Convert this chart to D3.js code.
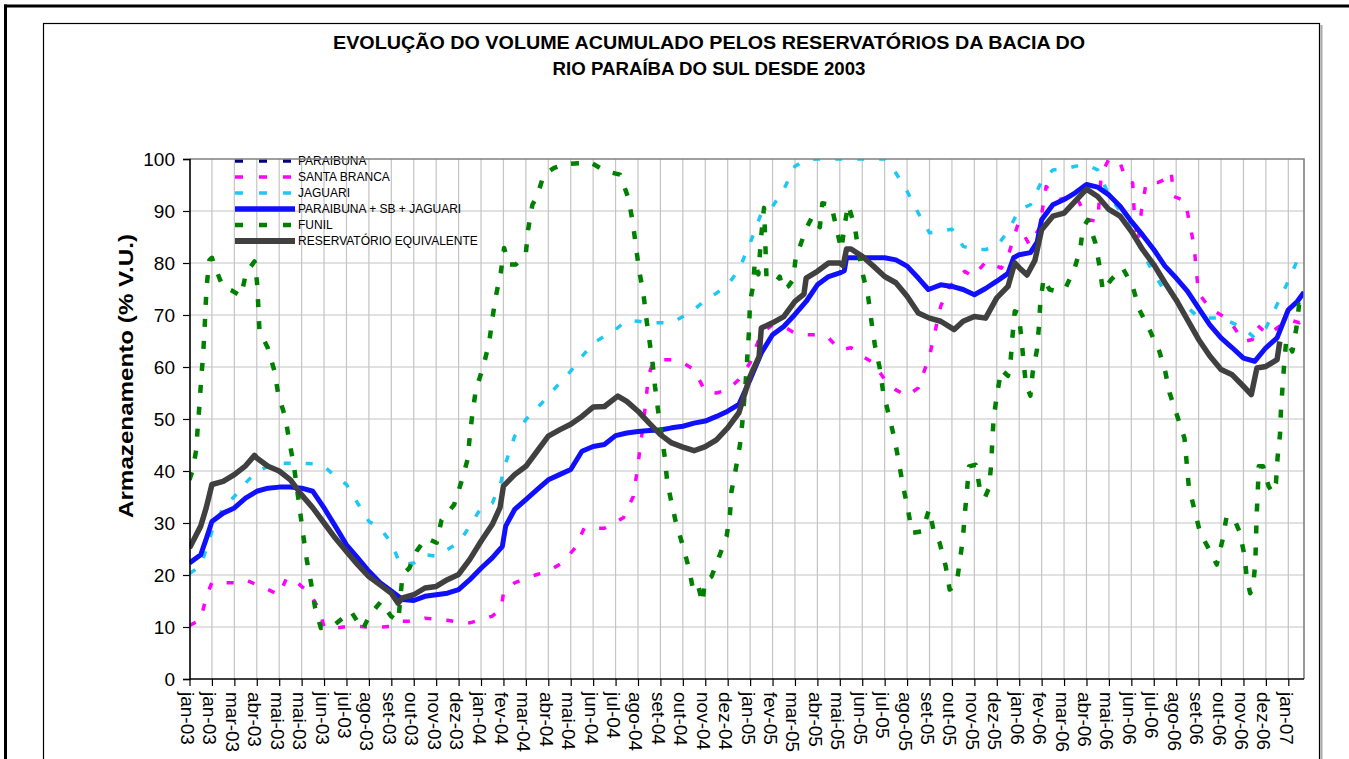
<!DOCTYPE html>
<html><head><meta charset="utf-8">
<script src="https://cdn.jsdelivr.net/npm/d3@7"></script>
<style>body{margin:0;background:#fff;overflow:hidden} svg{display:block}</style>
</head><body>
<svg id="c" width="1349" height="759"></svg>
<script>
// x positions are 30-day periods counted from 01/01/2003 (the axis ticks)
const xLabels = ["jan-03","jan-03","mar-03","abr-03","mai-03","mai-03","jun-03","jul-03","ago-03","set-03","out-03","nov-03","dez-03",
  "jan-04","fev-04","mar-04","abr-04","mai-04","jun-04","jul-04","ago-04","set-04","out-04","nov-04","dez-04",
  "jan-05","fev-05","mar-05","abr-05","mai-05","jun-05","jul-05","ago-05","set-05","out-05","nov-05","dez-05",
  "jan-06","fev-06","mar-06","abr-06","mai-06","jun-06","jul-06","ago-06","set-06","out-06","nov-06","dez-06","jan-07"];
const yTicks = [0,10,20,30,40,50,60,70,80,90,100];
const seriesNames = ["PARAIBUNA","SANTA BRANCA","JAGUARI","PARAIBUNA + SB + JAGUARI","FUNIL","RESERVATÓRIO EQUIVALENTE"];

const paraibunaP = [];
const paraibunaV = [];

const santaBrancaP = [0,0.5,0.7,0.9,1,1.5,2,2.5,3,3.5,4,4.33,4.7,5,5.3,5.8,6,6.5,7,7.5,8,8.5,9,9.5,10,10.5,11,11.5,12,12.5,13,13.5,13.9,14,14.5,15,15.5,16,16.6,17.2,17.6,18.5,19.35,19.79,19.96,20.1,20.24,20.36,20.46,20.66,20.9,21.5,22,22.5,23,23.5,24,24.5,25,25.5,26,26.5,27,27.5,28,28.5,29,29.5,30,30.5,31,31.5,32,32.5,33,33.5,33.9,34.57,34.94,35.53,36.2,36.5,36.94,37.46,37.9,38.2,38.8,39.5,40.1,40.5,40.66,41,41.5,41.8,42.06,42.15,42.3,42.45,42.66,43.2,43.47,43.77,43.9,44.4,44.6,44.8,44.9,45,45.5,46,46.4,47,47.4,47.6,48.1,48.5,49,49.5,49.7];
const santaBrancaV = [10.3,11.4,15,17.5,18.5,18.5,18.5,19.1,18.1,17.2,16.2,19.4,19,17.8,16.9,13.3,10,9.8,10.1,10.1,10,10,10.1,11.1,11.1,11.7,11.5,11.3,10.9,10.8,11.4,12.1,13.5,16.5,18.5,19.4,20.1,20.7,22.3,25.2,29,29,31,35.1,39.9,44.7,49.2,53.7,58.2,60.8,61.4,61.4,60.8,59.5,55.3,55,55.6,57.6,60.8,66.5,68.1,67.8,66.5,66.2,66.2,65.6,63.3,63.7,62.1,60.8,57.6,55.6,54.4,56,62.1,71.7,75.5,78.4,77.4,80.3,79,81.3,87.4,83.5,86.7,94.7,92.2,93,88.3,88,97,100,99.2,95.7,95.4,88,84,90,95.4,95.5,96,97.6,92.8,91.9,87.7,83.2,78.4,74.2,71.3,70,68.8,64.9,65.3,68.1,66.2,67.5,69.1,68.5,69];

const jaguariP = [0,0.5,1,1.5,2,2.5,3,3.5,4,4.5,5,5.5,6,6.5,7,7.5,8,8.5,9,9.4,10,10.5,11,11.5,12,12.5,13,13.5,13.9,14,14.5,15,15.5,16,16.5,17,17.5,18,18.5,19,19.5,20,20.5,21,21.5,22,22.5,23,23.5,24,24.5,25,25.5,26,26.5,27,27.5,28,29,30,31,31.5,32,32.5,33,33.5,34,34.5,35,35.5,36,36.5,37,37.5,38,38.5,39,39.5,40,40.5,41,41.5,42,42.5,43,43.5,44,44.5,45,45.5,46,46.5,47,47.5,48,48.5,49,49.5,49.7];
const jaguariV = [20.3,21.7,28.4,32.9,35.1,37.7,39.9,40.9,41.5,41.5,41.5,41.4,40.9,39,37.4,33.8,30.3,29,26.2,22,22.3,23.9,23.6,24.9,26.2,29.4,32.9,33.8,38,40.3,46.7,49.9,52.1,54.4,56.9,59.2,62,64.6,65.9,67.2,69,68.8,68.5,68.5,68.5,69.7,71,72.9,74.2,75.8,78.7,83.8,89.6,90.9,94.1,98.6,99.9,100,100,100,100,97.3,93.8,89.6,85.8,86.1,86.5,83.2,82.6,82.6,83.2,86.1,90.3,91.2,95.7,97.9,98.1,98.6,98.9,97.9,93,90,86.5,82,78,74.5,73,71.5,69.5,69.4,69.4,68.5,67.5,65.6,67.5,72,76.5,81.5,82.5];

const somaP = [0,0.5,0.75,1,1.5,2,2.5,3,3.5,4,4.5,5,5.5,6,6.5,7,7.5,8,8.5,9,9.5,10,10.5,11,11.5,12,12.5,13,13.5,13.95,14.1,14.5,15,15.5,16,16.5,17,17.5,18,18.5,19,19.5,20,20.5,21,21.5,22,22.5,23,23.5,24,24.5,25,25.5,26,26.5,27,27.5,28,28.5,29,29.2,29.3,30,30.5,31,31.5,32,32.5,32.95,33.5,34,34.5,35,35.5,36,36.5,36.75,37,37.5,37.8,38,38.5,39,39.5,40,40.5,41,41.5,42,42.5,43,43.5,44,44.5,45,45.5,46,46.5,47,47.5,48,48.5,49,49.4,49.7];
const somaV = [22.3,23.9,27,30.3,31.9,32.9,34.8,36.1,36.7,36.9,36.9,36.7,36.1,32.9,29.4,25.8,23.3,20.7,18.5,16.9,15.3,15.1,15.9,16.2,16.5,17.2,19.1,21.3,23.3,25.5,29.4,32.6,34.5,36.4,38.3,39.3,40.3,43.8,44.7,45.1,46.8,47.3,47.6,47.8,47.9,48.3,48.6,49.2,49.6,50.5,51.5,52.8,57.6,62.7,66.2,67.8,70.1,72.6,75.8,77.4,78.1,78.5,81,81,81,81,80.6,79.4,77.1,74.9,75.8,75.5,74.9,73.9,75.1,76.5,78,81,81.6,82,84,88.3,91.2,92.2,93.5,95.1,94.6,93.1,90.9,88,85.4,82.6,79.4,77.1,74.6,71.3,68.1,65.6,63.7,61.7,61.1,63.7,65.6,71,72.6,74.4];

const funilP = [0,0.15,0.3,0.37,0.45,0.52,0.6,0.67,0.71,0.77,0.89,1,1.16,1.48,1.93,2.3,2.52,2.9,3.01,3.07,3.12,3.49,3.79,3.96,4.28,4.45,4.65,4.93,5.08,5.23,5.42,5.6,5.86,6.46,7.2,7.72,8.05,8.54,8.98,9.31,9.5,9.8,10.13,10.54,11.02,11.24,11.8,12.13,12.4,12.5,12.62,12.77,13.1,13.36,13.5,13.66,13.88,14.03,14.25,14.55,15,15.1,15.29,15.5,15.8,16.26,16.78,17.35,17.93,18.6,19.2,19.57,19.76,19.91,20.04,20.24,20.36,20.51,20.66,20.76,20.9,21.2,21.3,21.5,21.68,21.99,22.27,22.47,22.69,22.88,22.98,23.28,23.65,23.95,24.1,24.17,24.37,24.55,24.66,24.8,24.96,24.99,25.14,25.21,25.37,25.48,25.58,25.62,25.66,25.73,26.18,26.32,26.47,26.7,26.92,27.04,27.14,27.48,27.78,28.11,28.22,28.62,28.85,29.07,29.22,29.37,29.67,29.82,30.01,30.26,30.41,30.56,30.78,30.93,31.2,31.45,31.64,31.82,32.04,32.22,32.68,32.98,33.19,33.45,33.72,33.9,34.2,34.35,34.49,34.57,34.67,34.76,35.06,35.24,35.46,35.65,35.75,35.8,35.86,36.01,36.2,36.5,36.62,36.7,36.8,36.97,37.09,37.19,37.3,37.5,37.6,37.79,37.88,37.94,38.09,38.35,38.65,39.07,39.47,39.72,39.84,40.06,40.4,40.58,40.73,41.1,41.62,42.06,42.36,42.84,43.25,43.52,43.7,44.03,44.37,44.47,44.56,44.81,45.07,45.51,45.81,46.07,46.25,46.6,46.82,47.04,47.15,47.3,47.44,47.53,47.56,47.59,47.64,47.68,47.88,48.12,48.3,48.45,48.52,48.63,48.67,48.74,48.82,48.91,49.18,49.36,49.48,49.63];
const funilV = [38.3,40.3,44.1,48.6,53,57.6,62,66.9,71,75.8,80.6,81,79,75.5,74.6,73.6,78.1,80.3,76.3,71.5,66.9,63.7,59.2,54.7,50.2,45.7,41.2,32.2,27.4,22.9,18.5,13.7,9.8,10.4,13,9.5,12.4,14.9,12.1,11.1,20.1,21.3,24.6,27.1,26.2,30.6,33.5,38,42.2,46.7,51.2,55.6,60.1,64.6,69.1,73.6,78.1,82.9,79.7,79.7,81.9,86.4,91.2,92.8,97,98.3,99,99.2,99.2,97.6,97,92.5,88,83.2,78.8,74.2,69.7,65.1,60.4,56.2,51.5,42.5,38,33.8,30.3,25.8,21.3,16.9,17.8,14.6,18.8,19.7,23.9,27.4,31.6,36.1,40.6,45.1,49.6,57,67.5,72.3,75.8,80.3,77.8,84.5,89,90.6,86.1,77.1,76.5,77.4,74.9,75.5,76.8,81.3,82.2,86.4,89,86.9,91.5,91.2,86.7,82.6,87.4,91.2,87,82.6,78.1,73.6,68.8,64.3,59.8,55.3,50.5,46,41.5,37.1,32.6,28.1,28.4,32.6,28.4,26.2,21.7,17.2,18.1,22.6,27.1,31.6,36.1,40.9,41.2,36.7,34.8,36.7,41.2,45.7,50.2,54.7,59.5,58.3,61.4,65.9,70.7,70.4,65.9,61.2,56.7,54.5,58.9,63.3,67.8,72.3,77.1,74.9,74.6,75.2,79,82.6,86.7,88.3,83.8,79.4,74.6,76.8,79,75.5,71,66.9,63,59,55.1,50.8,46.3,41.5,37.1,32.6,28.1,24.6,22,26.8,31.3,30.6,28.4,23.9,19.4,16.5,18.1,22.6,27.1,31.6,36.1,40.9,40.9,37.1,35.8,37.7,42.5,47,51.5,56,60.8,65.3,63,67.5,72,71.7];

const equivP = [0,0.5,0.75,1,1.5,2,2.5,2.9,3,3.5,4,4.5,5,5.5,6,6.5,7,7.5,8,8.5,9,9.3,9.5,10,10.5,11,11.5,12,12.5,13,13.5,13.85,14,14.5,15,15.5,16,16.5,17,17.5,18,18.5,19.1,19.5,20,20.5,21,21.5,22,22.5,23,23.5,24,24.5,25,25.4,25.5,26,26.5,27,27.4,27.5,28,28.5,29,29.15,29.3,29.5,30,30.5,31,31.5,32,32.5,33,33.5,34.1,34.5,35,35.5,36,36.5,36.8,37,37.35,37.7,38,38.5,39,39.5,40,40.5,41,41.5,42,42.5,43,43.5,44,44.5,45,45.5,46,46.5,47,47.35,47.6,48,48.5,48.62];
const equivV = [25.2,29.4,33,37.4,38,39.3,41,43,42.5,40.9,40,38.3,35.4,32.9,30,27.1,24.5,22,19.7,18.1,16.5,14.6,15.6,16.2,17.5,17.8,19.1,20.1,23,26.5,29.7,33,37.1,39.3,40.9,43.8,46.7,47.9,49,50.5,52.3,52.4,54.4,53.4,51.5,49.2,47,45.4,44.6,43.9,44.7,46,48.3,51.2,58.2,62,67.5,68.5,69.7,72.6,74,77.1,78.4,80,80,79.5,82.7,82.7,81.3,79.4,77.4,76.2,73.6,70.4,69.4,68.8,67.2,68.8,69.7,69.4,73.3,75.5,80,79.1,77.7,80.5,86.4,89,89.6,91.9,94.2,92.8,90.3,89,86.1,82.6,79.7,76.2,72.9,69.1,65.3,62.1,59.5,58.5,56.3,54.7,59.8,60.1,61.4,64.9];

const FONT = "'Liberation Sans', Arial, sans-serif";
const svg = d3.select("#c");
const W = 1349, H = 759;
const plot = {left: 189.5, right: 1304, top: 159, bottom: 679};

const x = d3.scaleLinear().domain([0, 49.7]).range([plot.left, plot.right]);
const y = d3.scaleLinear().domain([0, 100]).range([plot.bottom, plot.top]);

// frames
svg.append("rect").attr("x",0).attr("y",0).attr("width",W).attr("height",H).attr("fill","#fff");
svg.append("line").attr("x1",4).attr("x2",W).attr("y1",6).attr("y2",6).attr("stroke","#000").attr("stroke-width",3);
svg.append("line").attr("x1",5.5).attr("x2",5.5).attr("y1",4.5).attr("y2",H).attr("stroke","#000").attr("stroke-width",3);
svg.append("line").attr("x1",1321.5).attr("x2",1321.5).attr("y1",25).attr("y2",H).attr("stroke","#aaa").attr("stroke-width",2);
svg.append("rect").attr("x",43.5).attr("y",23.5).attr("width",1276).attr("height",800)
  .attr("fill","none").attr("stroke","#000").attr("stroke-width",1.2);

// title
const title = svg.append("text").attr("text-anchor","middle").attr("font-family",FONT)
  .attr("font-weight","bold").attr("font-size",18.5).attr("fill","#000");
title.append("tspan").attr("x",709).attr("y",49).attr("textLength",752).attr("lengthAdjust","spacingAndGlyphs")
  .text("EVOLUÇÃO DO VOLUME ACUMULADO PELOS RESERVATÓRIOS DA BACIA DO");
title.append("tspan").attr("x",709).attr("y",75).attr("textLength",313).attr("lengthAdjust","spacingAndGlyphs")
  .text("RIO PARAÍBA DO SUL DESDE 2003");

// gridlines
const grid = svg.append("g");
grid.selectAll("line.v").data(d3.range(1, xLabels.length)).join("line")
  .attr("x1", d => x(d)).attr("x2", d => x(d)).attr("y1", plot.top).attr("y2", plot.bottom)
  .attr("stroke","#c4c4c4").attr("stroke-width",1.2);
grid.selectAll("line.h").data(yTicks.filter(v => v > 0 && v < 100)).join("line")
  .attr("x1", plot.left).attr("x2", plot.right).attr("y1", d => y(d)).attr("y2", d => y(d))
  .attr("stroke","#c4c4c4").attr("stroke-width",1.2);

// clip
svg.append("clipPath").attr("id","pc").append("rect")
  .attr("x",plot.left).attr("y",plot.top).attr("width",plot.right-plot.left).attr("height",plot.bottom-plot.top);

const series = [
  {name: seriesNames[0], p: paraibunaP, v: paraibunaV, color:"#000080", w:3.5, dash:"8,16"},
  {name: seriesNames[1], p: santaBrancaP, v: santaBrancaV, color:"#ff00ff", w:3.5, dash:"7,15"},
  {name: seriesNames[2], p: jaguariP, v: jaguariV, color:"#1ec8f5", w:3.5, dash:"7,15"},
  {name: seriesNames[3], p: somaP, v: somaV, color:"#1010ff", w:5, dash:null},
  {name: seriesNames[4], p: funilP, v: funilV, color:"#008000", w:4.5, dash:"8,14"},
  {name: seriesNames[5], p: equivP, v: equivV, color:"#404040", w:5.5, dash:null}
];

const line = d3.line().x(d => x(d[0])).y(d => y(d[1]));
const lines = svg.append("g").attr("clip-path","url(#pc)");
series.forEach(s => {
  if (!s.p.length) return;
  const pts = s.p.map((p,i) => [p, s.v[i]]);
  lines.append("path").datum(pts).attr("d", line).attr("fill","none")
    .attr("stroke", s.color).attr("stroke-width", s.w)
    .attr("stroke-linejoin","round")
    .attr("stroke-dasharray", s.dash);
});

// legend
const leg = svg.append("g");
series.forEach((s,i) => {
  const yy = 161 + 16*i;
  leg.append("line").attr("x1",235).attr("x2",295).attr("y1",yy).attr("y2",yy)
    .attr("stroke",s.color).attr("stroke-width", s.dash ? (i===4?4.5:3.5) : (i===5?6:5.5))
    .attr("stroke-dasharray", s.dash ? "8,16" : null);
  leg.append("text").attr("x",298).attr("y",yy).attr("dy","0.36em")
    .attr("font-family",FONT).attr("font-size",12).attr("fill","#000").text(s.name);
});

// plot border (top/right grey)
svg.append("path").attr("d",`M${plot.left},${plot.top}H${plot.right}V${plot.bottom}`)
  .attr("fill","none").attr("stroke","#808080").attr("stroke-width",1.6);

// axes
const yAxis = svg.append("g").attr("transform",`translate(${plot.left},0)`)
  .call(d3.axisLeft(y).tickValues(yTicks).tickSize(6.5).tickPadding(8).tickFormat(d3.format("d")));
yAxis.select(".domain").attr("stroke","#000").attr("stroke-width",1.6);
yAxis.selectAll(".tick line").attr("stroke","#000").attr("stroke-width",1.2);
yAxis.selectAll("text").attr("font-family",FONT).attr("font-size",19).attr("fill","#000");

const xAxis = svg.append("g").attr("transform",`translate(0,${plot.bottom})`)
  .call(d3.axisBottom(x).tickValues(d3.range(xLabels.length)).tickSize(7).tickFormat(i => xLabels[i]));
xAxis.select(".domain").attr("d",`M${plot.left},0H${plot.right}`).attr("stroke","#000").attr("stroke-width",1.6);
xAxis.selectAll(".tick line").attr("stroke","#000").attr("stroke-width",1.2);
xAxis.selectAll("text").attr("font-family",FONT).attr("font-size",19).attr("fill","#000")
  .attr("transform","rotate(90)").attr("x",13).attr("y",9).attr("dy",0).style("text-anchor","start");

// y title
svg.append("text").attr("transform","translate(133,376) rotate(-90)")
  .attr("text-anchor","middle").attr("font-family",FONT).attr("font-weight","bold")
  .attr("font-size",19.5).attr("textLength",284).attr("lengthAdjust","spacingAndGlyphs")
  .attr("fill","#000").text("Armazenamento (% V.U.)");
</script>
</body></html>
